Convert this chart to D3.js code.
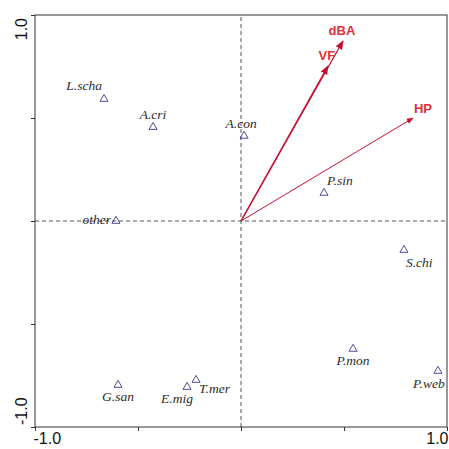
<!DOCTYPE html>
<html><head><meta charset="utf-8">
<script src="https://cdn.jsdelivr.net/npm/d3@7"></script>
<style>body{margin:0;background:#fff}svg{display:block}</style>
</head><body>
<script>
const species = ["L.scha","A.cri","A.con","P.sin","other","S.chi","P.mon","P.web","G.san","E.mig","T.mer"];
const speciesX = [-0.665,-0.427,0.015,0.403,-0.607,0.791,0.544,0.956,-0.597,-0.262,-0.218];
const speciesY = [0.592,0.456,0.413,0.136,0.0,-0.141,-0.621,-0.728,-0.796,-0.806,-0.772];
const envVars = ["dBA","VF","HP"];
const envX = [0.495,0.422,0.835];
const envY = [0.874,0.752,0.500];
const tickValues = [-1,-0.5,0,0.5,1];
const tickLabels = ["-1.0","","","","1.0"];

const labelPos = {
  "L.scha":[-2,-9,"end"], "A.cri":[0,-8,"middle"], "A.con":[-3,-8,"middle"],
  "P.sin":[3,-8,"start"], "other":[-5,3,"end"], "S.chi":[2,17,"start"],
  "P.mon":[0,16,"middle"], "P.web":[-9,17,"middle"], "G.san":[0,16,"middle"],
  "E.mig":[-10,16,"middle"], "T.mer":[3,13,"start"]
};
const envLabelPos = {"dBA":[-1,-6,"middle"],"VF":[-1,-6,"middle"],"HP":[10,-5,"middle"]};

const W=449,H=449, L=35,T=15,R=447,B=427;
const svg=d3.select("body").append("svg").attr("width",W).attr("height",H);
const x=d3.scaleLinear().domain([-1,1]).range([L,R]);
const y=d3.scaleLinear().domain([-1,1]).range([B,T]);

svg.append("line").attr("x1",x(-1)).attr("x2",x(1)).attr("y1",y(0)).attr("y2",y(0))
  .attr("stroke","#555").attr("stroke-dasharray","4,3").attr("stroke-width",1);
svg.append("line").attr("x1",x(0)).attr("x2",x(0)).attr("y1",y(-1)).attr("y2",y(1))
  .attr("stroke","#555").attr("stroke-dasharray","4,3").attr("stroke-width",1);

svg.append("rect").attr("x",L).attr("y",T).attr("width",R-L).attr("height",B-T)
  .attr("fill","none").attr("stroke","#333").attr("stroke-width",1);

const xa=svg.append("g").attr("transform",`translate(0,${B})`)
  .call(d3.axisBottom(x).tickValues(tickValues).tickSize(4).tickFormat((d,i)=>tickLabels[i]));
const ya=svg.append("g").attr("transform",`translate(${L},0)`)
  .call(d3.axisLeft(y).tickValues(tickValues).tickSize(4).tickFormat(""));
[xa,ya].forEach(g=>{g.select(".domain").remove(); g.selectAll(".tick line").attr("stroke","#333");});
xa.selectAll(".tick text").attr("font-family","Liberation Sans, Arial, sans-serif").attr("font-size",16).attr("fill","#111")
  .attr("y",17).attr("dy",0)
  .attr("text-anchor",(d,i)=>i===0?"start":(i===4?"end":"middle"))
  .attr("dx",(d,i)=>i===0?-2:(i===4?1:0));
svg.append("text").attr("transform",`translate(${L-8},${y(1)+3}) rotate(-90)`)
  .attr("text-anchor","end").attr("font-family","Liberation Sans, Arial, sans-serif").attr("font-size",16).attr("fill","#111").text(tickLabels[4]);
svg.append("text").attr("transform",`translate(${L-8},${y(-1)-2}) rotate(-90)`)
  .attr("text-anchor","start").attr("font-family","Liberation Sans, Arial, sans-serif").attr("font-size",16).attr("fill","#111").text(tickLabels[0]);

const defs=svg.append("defs");
defs.append("marker").attr("id","ah").attr("viewBox","0 0 10 10").attr("refX",9).attr("refY",5)
  .attr("markerWidth",7).attr("markerHeight",7).attr("orient","auto")
  .append("path").attr("d","M0,1 L10,5 L0,9 Z").attr("fill","#c8102e");
envVars.forEach((v,i)=>{
  svg.append("line").attr("x1",x(0)).attr("y1",y(0)).attr("x2",x(envX[i])).attr("y2",y(envY[i]))
    .attr("stroke","#c8102e").attr("stroke-width",i<2?1.3:1).attr("marker-end","url(#ah)");
  const p=envLabelPos[v];
  svg.append("text").attr("x",x(envX[i])+p[0]).attr("y",y(envY[i])+p[1]).attr("text-anchor",p[2])
    .attr("font-family","Liberation Sans, Arial, sans-serif").attr("font-weight","bold").attr("font-size",13)
    .attr("fill","#e0303a").text(v);
});

const tri=d3.symbol().type(d3.symbolTriangle).size(28);
species.forEach((s,i)=>{
  const px=x(speciesX[i]), py=y(speciesY[i]);
  svg.append("path").attr("d",tri).attr("transform",`translate(${px},${py})`)
    .attr("fill","none").attr("stroke","#3a3a8c").attr("stroke-width",0.9);
  const p=labelPos[s];
  svg.append("text").attr("x",px+p[0]).attr("y",py+p[1]).attr("text-anchor",p[2])
    .attr("font-family","Liberation Serif, Times New Roman, serif").attr("font-style","italic")
    .attr("font-size",13.5).attr("fill","#2a2a2a").text(s);
});
</script>
</body></html>
